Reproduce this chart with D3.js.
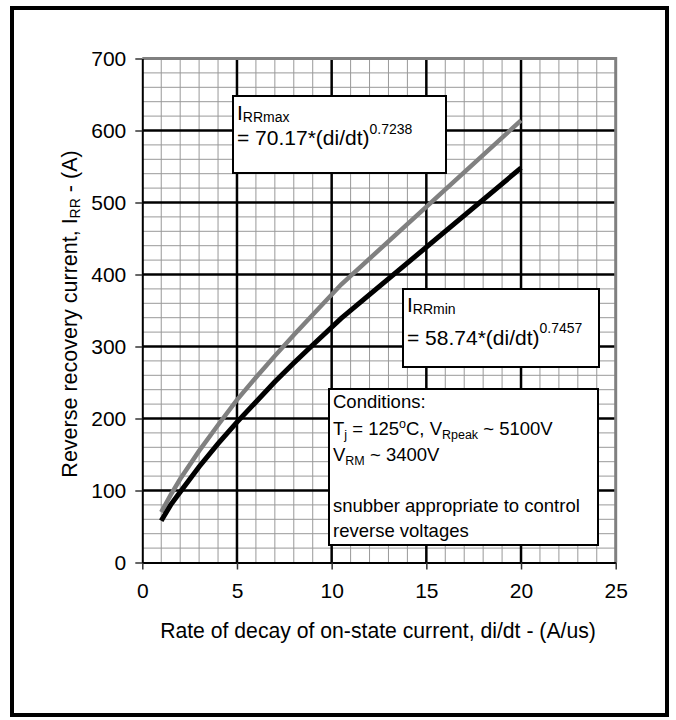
<!DOCTYPE html>
<html>
<head>
<meta charset="utf-8">
<script src="https://cdn.jsdelivr.net/npm/d3@7"></script>
<style>
  html, body { margin: 0; padding: 0; background: #fff; }
  svg { display: block; }
  text { font-family: "Liberation Sans", Arial, Helvetica, sans-serif; fill: #000; }
</style>
</head>
<body>
<svg id="chart" width="676" height="720"></svg>
<script>
// ---- data ----
const xTickValues = [0, 5, 10, 15, 20, 25];
const yTickValues = [0, 100, 200, 300, 400, 500, 600, 700];
const diDt   = [1, 1.5, 2, 3, 4, 5, 6, 7, 8, 9, 10.5, 20];
const irrMax = [70, 94, 116, 155, 191, 226, 257, 287, 316, 344, 386, 614];
const irrMin = [58, 80, 98, 133, 165, 195, 223, 251, 277, 302, 339, 548];
const xTitle = "Rate of decay of on-state current, di/dt - (A/us)";

const svg = d3.select("#chart");
const x = d3.scaleLinear().domain([0, 25]).range([142.3, 615.7]);
const y = d3.scaleLinear().domain([0, 700]).range([562.5, 58.5]);

// outer frame
svg.append("rect").attr("x", 0).attr("y", 0).attr("width", 676).attr("height", 720).attr("fill", "#fff");
svg.append("rect").attr("x", 12).attr("y", 8).attr("width", 655).attr("height", 707)
  .attr("fill", "none").attr("stroke", "#000").attr("stroke-width", 4);

// minor grid
const g = svg.append("g");
const minorX = d3.range(1, 25).filter(v => v % 5 !== 0);
const minorY = d3.range(20, 700, 20).filter(v => v % 100 !== 0);
g.selectAll(".mx").data(minorX).join("line")
  .attr("x1", d => x(d)).attr("x2", d => x(d)).attr("y1", y(0)).attr("y2", y(700))
  .attr("stroke", "#999").attr("stroke-width", 1);
g.selectAll(".my").data(minorY).join("line")
  .attr("x1", x(0)).attr("x2", x(25)).attr("y1", d => y(d)).attr("y2", d => y(d))
  .attr("stroke", "#999").attr("stroke-width", 1);
// major grid
g.selectAll(".Mx").data([5, 10, 15, 20]).join("line")
  .attr("x1", d => x(d)).attr("x2", d => x(d)).attr("y1", y(0)).attr("y2", y(700))
  .attr("stroke", "#000").attr("stroke-width", 2.5);
g.selectAll(".My").data([100, 200, 300, 400, 500, 600]).join("line")
  .attr("x1", x(0)).attr("x2", x(25)).attr("y1", d => y(d)).attr("y2", d => y(d))
  .attr("stroke", "#000").attr("stroke-width", 2.5);
// plot border top/right (gray)
g.append("path")
  .attr("d", `M${x(0)},${y(700)}H${x(25)}V${y(0)}`)
  .attr("fill", "none").attr("stroke", "#808080").attr("stroke-width", 3);

// axes
const xAxis = svg.append("g").attr("transform", `translate(0,${y(0)})`)
  .call(d3.axisBottom(x).tickValues(xTickValues).tickSize(7).tickSizeOuter(0).tickPadding(14));
const yAxis = svg.append("g").attr("transform", `translate(${x(0)},0)`)
  .call(d3.axisLeft(y).tickValues(yTickValues).tickSize(7).tickSizeOuter(0).tickPadding(9));
[xAxis, yAxis].forEach(a => {
  a.select(".domain").attr("stroke", "#000").attr("stroke-width", 2);
  a.selectAll(".tick line").attr("stroke", "#333").attr("stroke-width", 1.5);
  a.selectAll(".tick text").attr("font-size", 21).attr("fill", "#000")
    .attr("font-family", '"Liberation Sans", Arial, sans-serif');
});

// curves
const pts = (ys) => diDt.map((d, i) => [d, ys[i]]);
const line = d3.line().x(d => x(d[0])).y(d => y(d[1]));
svg.append("path").datum(pts(irrMax)).attr("d", line)
  .attr("fill", "none").attr("stroke", "#808080").attr("stroke-width", 4.5);
svg.append("path").datum(pts(irrMin)).attr("d", line)
  .attr("fill", "none").attr("stroke", "#000").attr("stroke-width", 5);

// axis titles
svg.append("text").attr("x", 378).attr("y", 638).attr("text-anchor", "middle")
  .attr("font-size", 21.2).text(xTitle);
const yt = svg.append("text").attr("transform", "translate(77,314) rotate(-90)")
  .attr("text-anchor", "middle").attr("font-size", 21.5);
yt.append("tspan").text("Reverse recovery current, I");
yt.append("tspan").attr("font-size", 14).attr("dy", 3).text("RR");
yt.append("tspan").attr("dy", -3).text(" - (A)");

// annotation boxes
function box(x0, y0, w, h) {
  svg.append("rect").attr("x", x0).attr("y", y0).attr("width", w).attr("height", h)
    .attr("fill", "#fff").attr("stroke", "#000").attr("stroke-width", 2);
}
function formula(x0, yb1, yb2, sub, main, sup, supShift) {
  const t1 = svg.append("text").attr("x", x0).attr("y", yb1).attr("font-size", 21);
  t1.append("tspan").text("I");
  t1.append("tspan").attr("font-size", 14).attr("dy", 2).text(sub);
  const t2 = svg.append("text").attr("x", x0).attr("y", yb2).attr("font-size", 21);
  t2.append("tspan").text(main);
  t2.append("tspan").attr("font-size", 14).attr("dy", -supShift).text(sup);
}
box(233, 96, 213, 77);
formula(237, 120, 145, "RRmax", "= 70.17*(di/dt)", "0.7238", 11);
box(403, 289, 196, 78);
formula(407, 312, 345, "RRmin", "= 58.74*(di/dt)", "0.7457", 12);

box(329, 389, 269, 156);
const fs = 18.5;
function tline(yb) { return svg.append("text").attr("x", 333).attr("y", yb).attr("font-size", fs); }
tline(408).text("Conditions:");
{
  const t = tline(435);
  t.append("tspan").text("T");
  t.append("tspan").attr("font-size", 12.5).attr("dy", 4).text("j");
  t.append("tspan").attr("dy", -4).text(" = 125");
  t.append("tspan").attr("font-size", 12.5).attr("dy", -7).text("o");
  t.append("tspan").attr("dy", 7).text("C, V");
  t.append("tspan").attr("font-size", 12.5).attr("dy", 4).text("Rpeak");
  t.append("tspan").attr("dy", -4).text(" ~ 5100V");
}
{
  const t = tline(461);
  t.append("tspan").text("V");
  t.append("tspan").attr("font-size", 12.5).attr("dy", 4).text("RM");
  t.append("tspan").attr("dy", -4).text(" ~ 3400V");
}
tline(512).text("snubber appropriate to control");
tline(537).text("reverse voltages");
</script>
</body>
</html>
